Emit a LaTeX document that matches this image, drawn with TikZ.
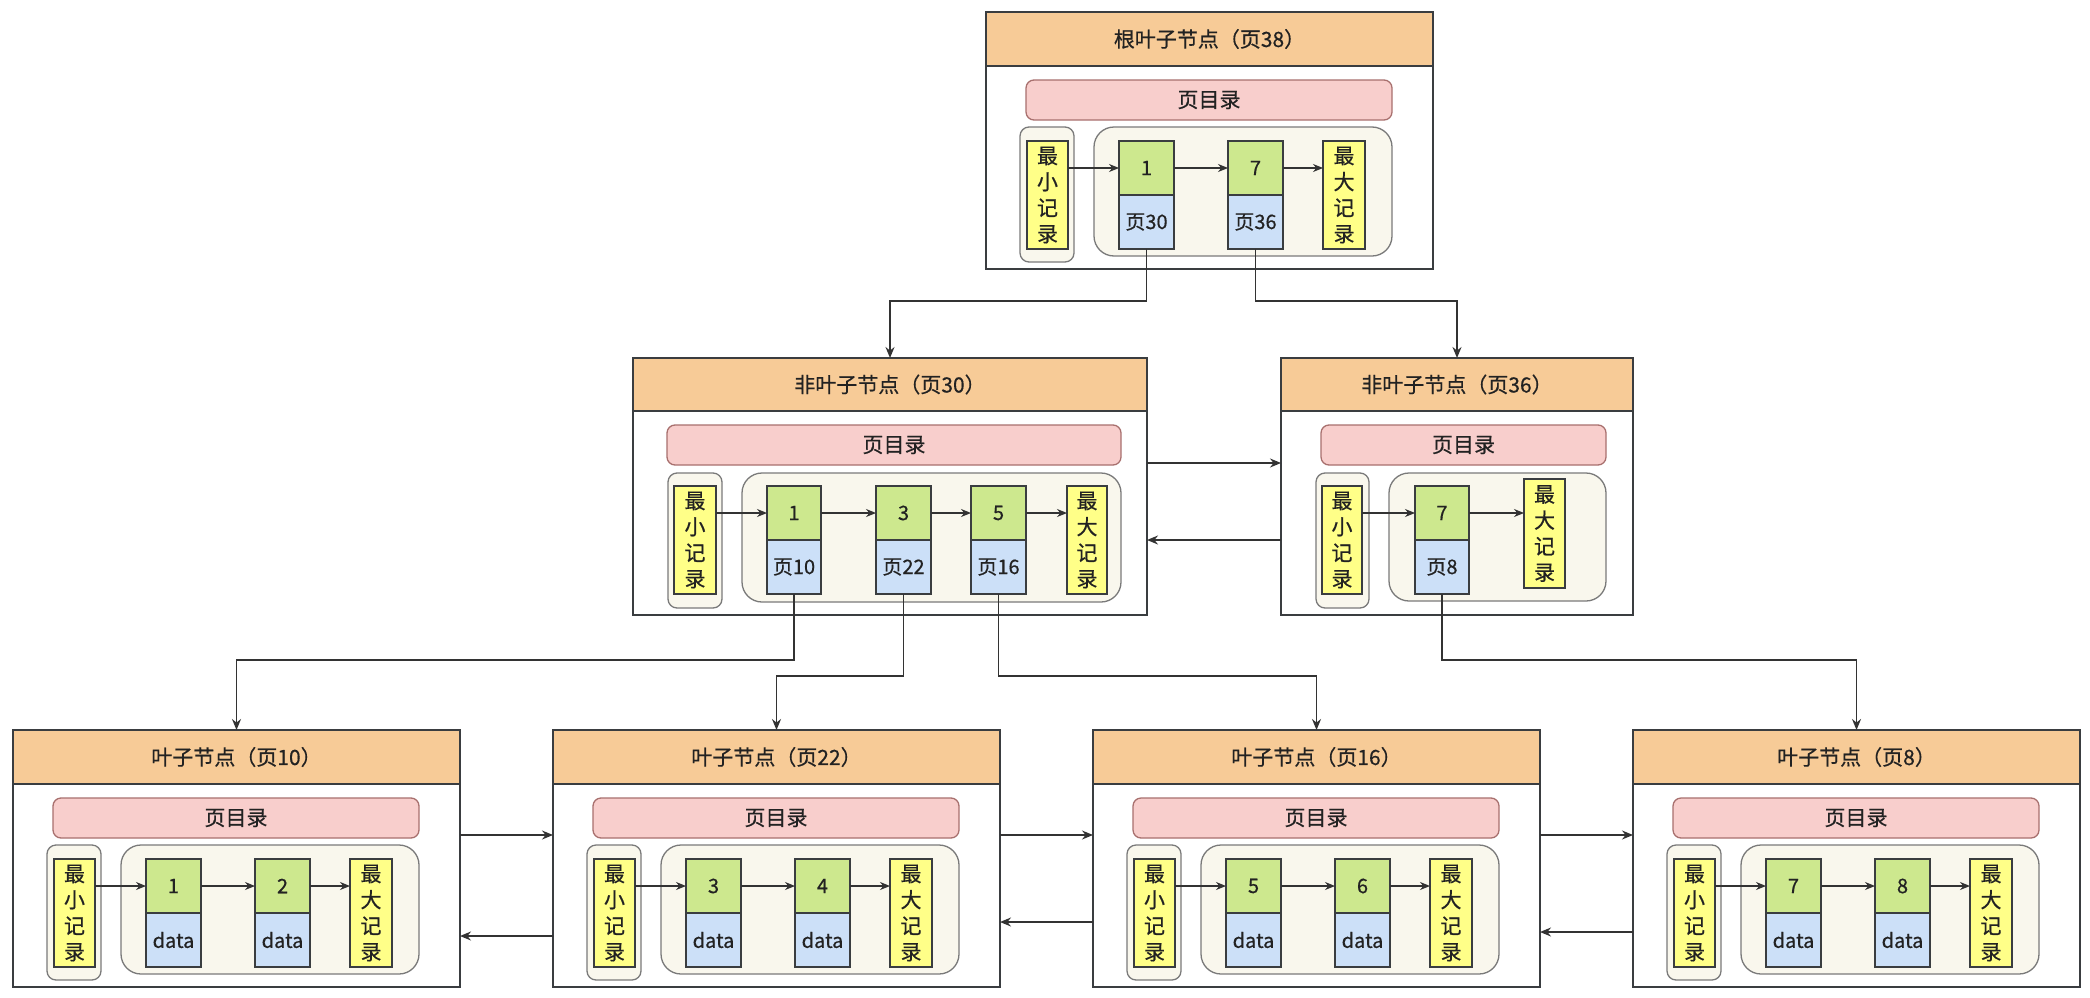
\documentclass[tikz,border=0pt]{standalone}
\usepackage{fontspec}
\setmainfont{Noto Sans CJK SC}[FakeBold=0.5]
\usetikzlibrary{arrows.meta,calc}
\definecolor{hdr}{HTML}{F7CB97}
\definecolor{pinkc}{HTML}{F8CECC}
\definecolor{pinkd}{HTML}{A8706E}
\definecolor{grp}{HTML}{F9F7ED}
\definecolor{grpd}{HTML}{7A7A7A}
\definecolor{yel}{HTML}{FFFF88}
\definecolor{grn}{HTML}{CDE88E}
\definecolor{blu}{HTML}{CCE0F8}
\definecolor{strk}{HTML}{3A3D40}
\definecolor{connc}{HTML}{333333}
\definecolor{txt}{HTML}{222222}
\tikzset{
  base/.style={inner sep=0pt, outer sep=0pt, line width=1.3pt, draw=strk, text=txt},
  outerbox/.style={base, fill=white, line width=1.6pt},
  hdrbox/.style={base, fill=hdr, line width=1.6pt, font=\fontsize{21}{25}\selectfont},
  dirbox/.style={base, fill=pinkc, draw=pinkd, rounded corners=8pt, font=\fontsize{21}{25}\selectfont},
  grpbox/.style={base, fill=grp, draw=grpd, rounded corners=20pt},
  minbox/.style={base, fill=grp, draw=grpd, rounded corners=9pt},
  yelbox/.style={base, fill=yel, align=center, font=\fontsize{21}{26}\selectfont},
  keybox/.style={base, fill=grn, font=\fontsize{20}{24}\selectfont},
  ptrbox/.style={base, fill=blu, font=\fontsize{20}{24}\selectfont},
  conn/.style={draw=connc, line width=1.5pt, -{Stealth[length=11pt,width=9pt]}},
  iconn/.style={draw=connc, line width=1.3pt, -{Stealth[length=10pt,width=8pt]}},
}
\newcommand\bx[7]{%
  \node[#1, minimum width={(#5)-(#3)}, minimum height={(#6)-(#4)}] (#2)
    at ({((#3)+(#5))/2},{((#4)+(#6))/2}) {#7};}
\newcommand\stdbox[8]{%
  \bx{outerbox}{#1}{#2}{#3}{#2+447}{#3+257}{}
  \bx{hdrbox}{#1h}{#2}{#3}{#2+447}{#3+54}{#4}
  \bx{dirbox}{#1d}{#2+40}{#3+68}{#2+406}{#3+108}{页目录}
  \bx{minbox}{#1m}{#2+34}{#3+115}{#2+88}{#3+250}{}
  \bx{yelbox}{#1y}{#2+41}{#3+129}{#2+82}{#3+237}{最\\小\\记\\录}
  \bx{grpbox}{#1g}{#2+108}{#3+115}{#2+406}{#3+244}{}
  \bx{keybox}{#1at}{#2+133}{#3+129}{#2+188}{#3+183}{#5}
  \bx{ptrbox}{#1ab}{#2+133}{#3+183}{#2+188}{#3+237}{#7}
  \bx{keybox}{#1bt}{#2+242}{#3+129}{#2+297}{#3+183}{#6}
  \bx{ptrbox}{#1bb}{#2+242}{#3+183}{#2+297}{#3+237}{#8}
  \bx{yelbox}{#1x}{#2+337}{#3+129}{#2+379}{#3+237}{最\\大\\记\\录}
  \draw[iconn] (#1at.west -| #1y.east) -- (#1at.west);
  \draw[iconn] (#1at.east) -- (#1bt.west);
  \draw[iconn] (#1bt.east) -- (#1bt.east -| #1x.west);
}
\begin{document}
\begin{tikzpicture}[x=1pt,y=-1pt]
\useasboundingbox[fill=white] (0,0) rectangle (2090,998);
% root
\stdbox{r}{986}{12}{根叶子节点（页38）}{1}{7}{页30}{页36}
% page 30
\bx{outerbox}{p}{633}{358}{1147}{615}{}
\bx{hdrbox}{ph}{633}{358}{1147}{411}{非叶子节点（页30）}
\bx{dirbox}{pd}{667}{425}{1121}{465}{页目录}
\bx{minbox}{pm}{668}{473}{722}{608}{}
\bx{yelbox}{py}{674}{486}{716}{594}{最\\小\\记\\录}
\bx{grpbox}{pg}{742}{473}{1121}{602}{}
\bx{keybox}{pat}{767}{486}{821}{540}{1}
\bx{ptrbox}{pab}{767}{540}{821}{594}{页10}
\bx{keybox}{pbt}{876}{486}{931}{540}{3}
\bx{ptrbox}{pbb}{876}{540}{931}{594}{页22}
\bx{keybox}{pct}{971}{486}{1026}{540}{5}
\bx{ptrbox}{pcb}{971}{540}{1026}{594}{页16}
\bx{yelbox}{px}{1067}{486}{1107}{594}{最\\大\\记\\录}
\draw[iconn] (pat.west -| py.east) -- (pat.west);
\draw[iconn] (pat.east) -- (pbt.west);
\draw[iconn] (pbt.east) -- (pct.west);
\draw[iconn] (pct.east) -- (pct.east -| px.west);
% page 36
\bx{outerbox}{q}{1281}{358}{1633}{615}{}
\bx{hdrbox}{qh}{1281}{358}{1633}{411}{非叶子节点（页36）}
\bx{dirbox}{qd}{1321}{425}{1606}{465}{页目录}
\bx{minbox}{qm}{1316}{473}{1369}{608}{}
\bx{yelbox}{qy}{1322}{486}{1362}{594}{最\\小\\记\\录}
\bx{grpbox}{qg}{1389}{473}{1606}{601}{}
\bx{keybox}{qat}{1415}{486}{1469}{540}{7}
\bx{ptrbox}{qab}{1415}{540}{1469}{594}{页8}
\bx{yelbox}{qx}{1524}{479}{1565}{588}{最\\大\\记\\录}
\draw[iconn] (qat.west -| qy.east) -- (qat.west);
\draw[iconn] (qat.east) -- (qat.east -| qx.west);
% leaves
\stdbox{la}{13}{730}{叶子节点（页10）}{1}{2}{data}{data}
\stdbox{lb}{553}{730}{叶子节点（页22）}{3}{4}{data}{data}
\stdbox{lc}{1093}{730}{叶子节点（页16）}{5}{6}{data}{data}
\stdbox{ld}{1633}{730}{叶子节点（页8）}{7}{8}{data}{data}
% tree connectors
\draw[conn] (rab.south) -- ++(0,52) -| (p.north);
\draw[conn] (rbb.south) -- ++(0,52) -| (q.north);
\draw[conn] (p.east |- 0,463) -- (q.west |- 0,463);
\draw[conn] (q.west |- 0,540) -- (p.east |- 0,540);
\draw[conn] (pab.south) -- ++(0,66) -| (la.north);
\draw[conn] (pbb.south) -- ++(0,82) -| (lb.north);
\draw[conn] (pcb.south) -- ++(0,82) -| (lc.north);
\draw[conn] (qab.south) -- ++(0,66) -| (ld.north);
% leaf links
\draw[conn] (la.east |- 0,835) -- (lb.west |- 0,835);
\draw[conn] (lb.east |- 0,835) -- (lc.west |- 0,835);
\draw[conn] (lc.east |- 0,835) -- (ld.west |- 0,835);
\draw[conn] (lb.west |- 0,936) -- (la.east |- 0,936);
\draw[conn] (lc.west |- 0,922) -- (lb.east |- 0,922);
\draw[conn] (ld.west |- 0,932) -- (lc.east |- 0,932);
\end{tikzpicture}
\end{document}
